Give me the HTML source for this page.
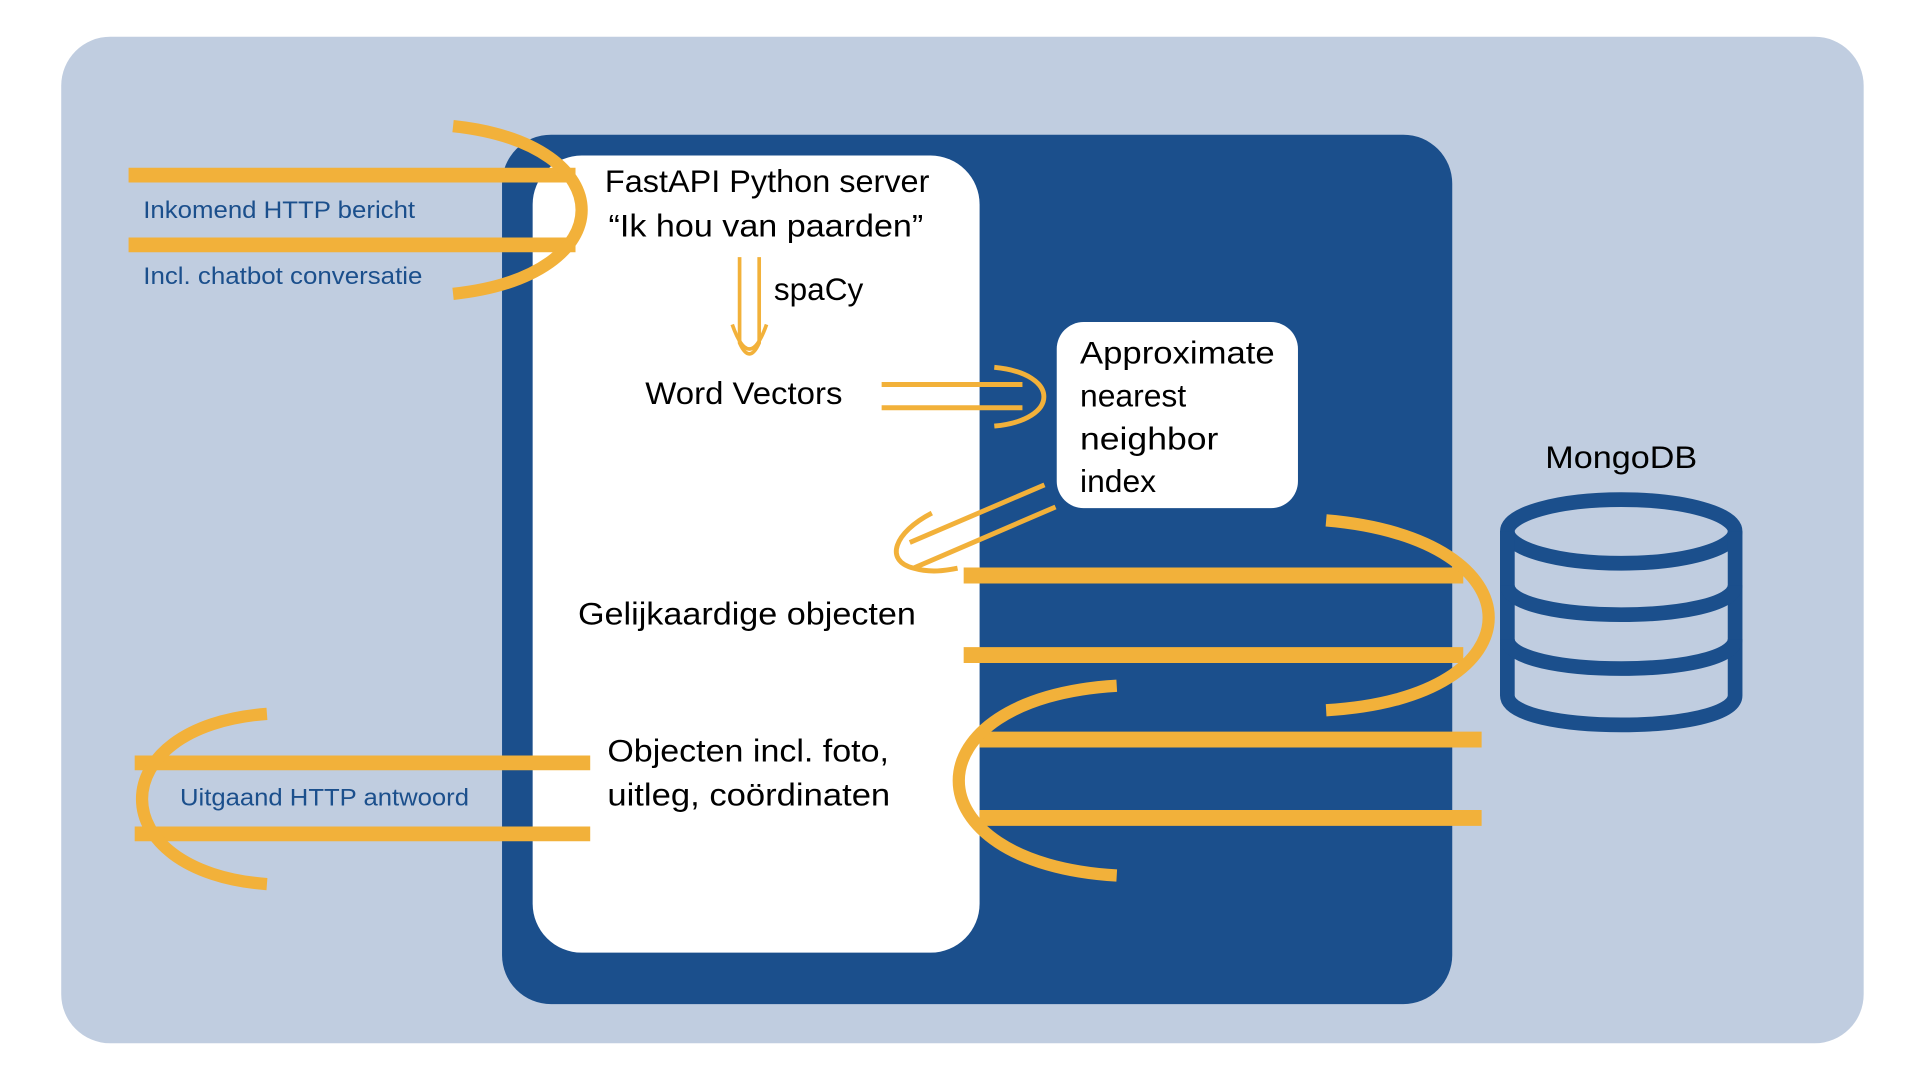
<!DOCTYPE html>
<html><head><meta charset="utf-8"><style>
html,body{margin:0;padding:0;background:#fff;width:1920px;height:1080px;overflow:hidden}
svg{display:block}
text{font-family:"Liberation Sans","DejaVu Sans",sans-serif}
</style></head><body>
<svg width="1920" height="1080" viewBox="0 0 1568 882" preserveAspectRatio="none">
<rect x="50" y="30" width="1472" height="822" rx="40" fill="#c0cde0"/>
<rect x="410" y="110" width="776" height="710" rx="40" fill="#1b4f8c"/>
<rect x="435" y="127" width="365" height="651" rx="40" fill="#fff"/>
<rect x="863" y="263" width="197" height="152" rx="22" fill="#fff"/>
<g fill="none" stroke="#f2b13a" stroke-linecap="butt">
 <path d="M105 143H470M105 200H470" stroke-width="12"/>
 <path d="M370 103C510 118 510 225 370 240" stroke-width="10"/>
 <path d="M604 210V280Q612 298 620 280V210" stroke-width="3"/>
 <path d="M598 265Q612 305 626 265" stroke-width="3"/>
 <path d="M720 314H835M720 333H835" stroke-width="4"/>
 <path d="M812 300C866 305 866 343 812 348" stroke-width="4"/>
 <path d="M853 396L743 443M862 414L746 464" stroke-width="4"/>
 <path d="M761 419C730 435 722 458 746 464C760 468 772 466 782 464" stroke-width="4"/>
 <path d="M787 470H1195M787 535H1195" stroke-width="13"/>
 <path d="M1083 425C1260 440 1260 570 1083 580" stroke-width="10"/>
 <path d="M800 604H1210M800 668H1210" stroke-width="13"/>
 <path d="M912 560C740 570 740 705 912 715" stroke-width="10"/>
 <path d="M110 623H482M110 681H482" stroke-width="12"/>
 <path d="M218 583C82 593 82 712 218 722" stroke-width="10"/>
</g>
<g fill="none" stroke="#1b4f8c" stroke-width="12">
 <ellipse cx="1324" cy="434" rx="93" ry="26"/>
 <path d="M1231 434V568C1231 600 1417 600 1417 568V434"/>
 <path d="M1231 478C1231 510 1417 510 1417 478"/>
 <path d="M1231 522C1231 554 1417 554 1417 522"/>
</g>
<g fill="#1b4f8c" font-size="20">
 <text x="117" y="178" textLength="222" lengthAdjust="spacingAndGlyphs">Inkomend HTTP bericht</text>
 <text x="117" y="232" textLength="228" lengthAdjust="spacingAndGlyphs">Incl. chatbot conversatie</text>
 <text x="147" y="658" textLength="236" lengthAdjust="spacingAndGlyphs">Uitgaand HTTP antwoord</text>
</g>
<g fill="#000" font-size="26">
 <text x="494" y="157" textLength="265" lengthAdjust="spacingAndGlyphs">FastAPI Python server</text>
 <text x="497" y="193" textLength="257" lengthAdjust="spacingAndGlyphs">“Ik hou van paarden”</text>
 <text x="632" y="245" textLength="73" lengthAdjust="spacingAndGlyphs">spaCy</text>
 <text x="527" y="330" textLength="161" lengthAdjust="spacingAndGlyphs">Word Vectors</text>
 <text x="882" y="297" textLength="159" lengthAdjust="spacingAndGlyphs">Approximate</text>
 <text x="882" y="332">nearest</text>
 <text x="882" y="367" textLength="113" lengthAdjust="spacingAndGlyphs">neighbor</text>
 <text x="882" y="402">index</text>
 <text x="1262" y="382" textLength="124" lengthAdjust="spacingAndGlyphs">MongoDB</text>
 <text x="472" y="510" textLength="276" lengthAdjust="spacingAndGlyphs">Gelijkaardige objecten</text>
 <text x="496" y="622" textLength="230" lengthAdjust="spacingAndGlyphs">Objecten incl. foto,</text>
 <text x="496" y="658" textLength="231" lengthAdjust="spacingAndGlyphs">uitleg, coördinaten</text>
</g>
</svg>
</body></html>
